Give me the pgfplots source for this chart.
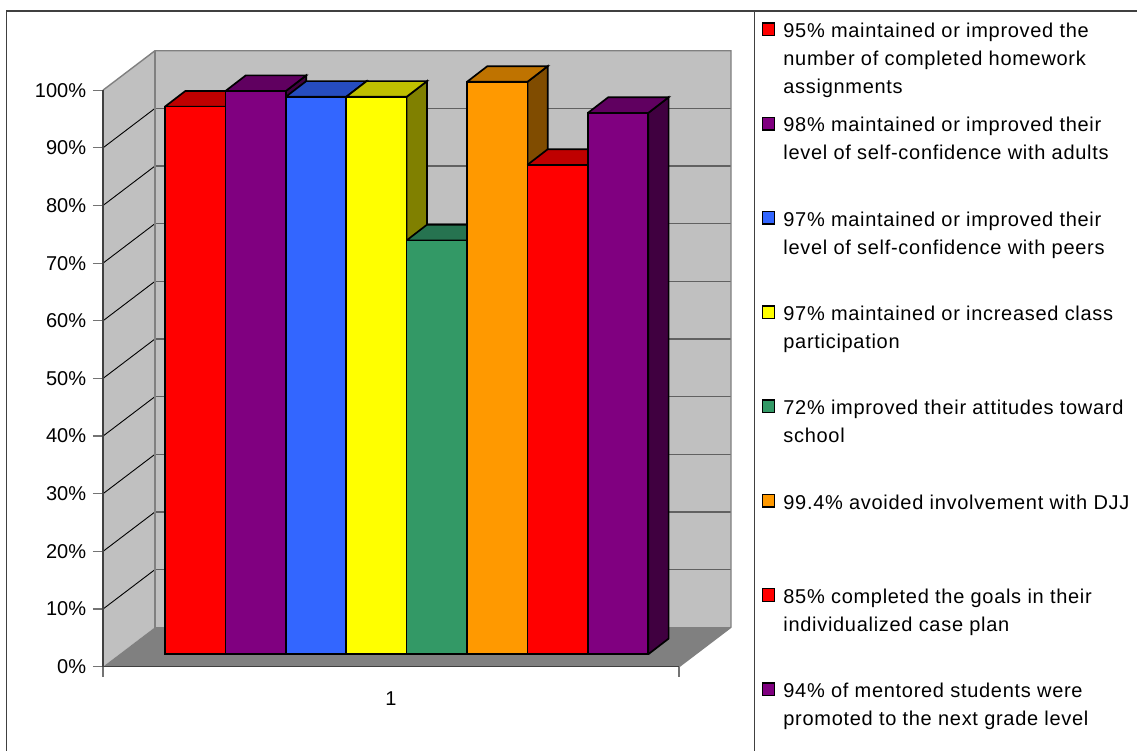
\documentclass[border=0pt]{standalone}
\usepackage{fontspec}
\setmainfont{Liberation Sans}
\newfontfamily\legfont[LetterSpace=3.5]{Liberation Sans}
\usepackage{pgfplots}
\pgfplotsset{compat=1.18}

% faces of the bars: front, top (75%), side (50%)
\definecolor{cRed}{HTML}{FF0000}\definecolor{cRedT}{HTML}{BF0000}\definecolor{cRedS}{HTML}{800000}
\definecolor{cPur}{HTML}{800080}\definecolor{cPurT}{HTML}{600060}\definecolor{cPurS}{HTML}{400040}
\definecolor{cBlu}{HTML}{3366FF}\definecolor{cBluT}{HTML}{264CBF}\definecolor{cBluS}{HTML}{1A3380}
\definecolor{cYel}{HTML}{FFFF00}\definecolor{cYelT}{HTML}{BFBF00}\definecolor{cYelS}{HTML}{808000}
\definecolor{cGrn}{HTML}{339966}\definecolor{cGrnT}{HTML}{267350}\definecolor{cGrnS}{HTML}{1A4D33}
\definecolor{cOra}{HTML}{FF9900}\definecolor{cOraT}{HTML}{BF7300}\definecolor{cOraS}{HTML}{804C00}
\definecolor{wall}{HTML}{C0C0C0}\definecolor{floorc}{HTML}{808080}
\definecolor{framec}{HTML}{404040}

\newcommand{\txt}{\fontsize{20}{28}\selectfont}
% each legend row is one fixed block, pitch 94.3
\newcommand{\legrow}[1]{\parbox[t][94.3pt][t]{350pt}{\legfont\strut #1}}

% x is in pixels from the front left corner, y in percent (5.765 px per percent)
\pgfplotsset{
  frontbar/.style={ybar, bar width=60.4pt, bar shift=0pt, yshift=12.4pt,
    draw=black, line width=1.7pt, fill=#1,
    legend image code/.code={\path[draw=black,line width=1.4pt,fill=#1] (0pt,-10.3pt) rectangle (12pt,2.3pt);}},
  face/.style={draw=black, line width=1.7pt, line join=miter, fill=#1, forget plot},
}

% #1 left edge, #2 value, #3 front #4 top #5 side
\newcommand{\threedbar}[5]{%
  \pgfmathsetmacro{\xa}{#1}\pgfmathsetmacro{\xb}{#1+60.4}%
  \pgfmathsetmacro{\xc}{#1+20.4}\pgfmathsetmacro{\xd}{#1+80.8}%
  \pgfmathsetmacro{\yb}{2.15}\pgfmathsetmacro{\ybb}{2.15+2.72}%
  \pgfmathsetmacro{\yt}{#2+2.15}\pgfmathsetmacro{\ytt}{#2+2.15+2.72}%
  \addplot[face=#5] coordinates {(\xb,\yb)(\xd,\ybb)(\xd,\ytt)(\xb,\yt)(\xb,\yb)};
  \addplot[face=#4] coordinates {(\xa,\yt)(\xb,\yt)(\xd,\ytt)(\xc,\ytt)(\xa,\yt)};
  \pgfmathsetmacro{\xm}{#1+30.2}%
  \addplot[frontbar=#3] coordinates {(\xm,#2)};
}
% a gridline across the side wall and the back wall
\newcommand{\wallgrid}[1]{%
  \pgfmathsetmacro{\ya}{#1+6.85}%
  \addplot[black, line width=0.9pt, forget plot] coordinates {(0,#1)(52,\ya)};
  \addplot[color=black!62, line width=1.4pt, forget plot] coordinates {(52,\ya)(628,\ya)};
}

\begin{document}
\txt
\begin{tikzpicture}[x=1pt,y=1pt]
\fill[white] (0,0) rectangle (1137,750);
\begin{pgfinterruptboundingbox}
\draw[framec, line width=1.5pt] (6.5,-5) -- (6.5,739.2) -- (1142,739.2);
\draw[framec, line width=1.2pt] (754.5,739.2) -- (754.5,-5);
\end{pgfinterruptboundingbox}
\begin{axis}[
  at={(103pt,83.3pt)}, anchor=south west,
  scale only axis, width=576pt, height=576.5pt,
  xmin=0, xmax=576, ymin=0, ymax=100,
  clip=false, axis on top,
  axis x line=bottom, axis y line=left,
  axis line style={-, color=framec, line width=1.2pt},
  tick align=outside, major tick length=10pt,
  tick style={color=black!55, line width=1.2pt},
  ytick={0,10,...,100},
  yticklabels={0\%,10\%,20\%,30\%,40\%,50\%,60\%,70\%,80\%,90\%,100\%},
  xtick={0,576}, xticklabels={,},
  extra x ticks={288}, extra x tick labels={1},
  extra x tick style={major tick length=0pt, tick label style={yshift=-18pt}},
  tick label style={font=\txt},
  legend style={at={(axis cs:659,112.52)}, anchor=north west, draw=none, fill=none,
    inner sep=0pt, outer sep=0pt, row sep=0pt, font=\txt,
    nodes={inner sep=0pt, text depth=},
    cells={anchor=base west},
    /tikz/every odd column/.append style={column sep=8pt}},
]
% walls and floor
\addplot[draw=none, fill=wall, forget plot] coordinates {(0,0)(52,6.85)(52,106.85)(0,100)(0,0)};
\addplot[draw=none, fill=wall, forget plot] coordinates {(52,6.85)(628,6.85)(628,106.85)(52,106.85)(52,6.85)};
\addplot[draw=none, fill=floorc, forget plot] coordinates {(0,0)(576,0)(628,6.85)(52,6.85)(0,0)};
\pgfplotsinvokeforeach{10,20,...,90}{\wallgrid{#1}}
\addplot[floorc, line width=1.4pt, forget plot] coordinates {(0,100)(52,106.85)(628,106.85)(628,6.85)(576,0)};
\addplot[floorc, line width=1.4pt, forget plot] coordinates {(52,106.85)(52,6.85)(628,6.85)};
% bars, back to front is left to right
\threedbar{62}{95}{cRed}{cRedT}{cRedS}
\addlegendentry{\legrow{95\% maintained or improved the\\number of completed homework\\assignments}}
\threedbar{122.4}{97.7}{cPur}{cPurT}{cPurS}
\addlegendentry{\legrow{98\% maintained or improved their\\level of self-confidence with adults}}
\threedbar{182.8}{96.7}{cBlu}{cBluT}{cBluS}
\addlegendentry{\legrow{97\% maintained or improved their\\level of self-confidence with peers}}
\threedbar{243.2}{96.7}{cYel}{cYelT}{cYelS}
\addlegendentry{\legrow{97\% maintained or increased class\\participation}}
\threedbar{303.6}{71.8}{cGrn}{cGrnT}{cGrnS}
\addlegendentry{\legrow{72\% improved their attitudes toward\\school}}
\threedbar{364}{99.3}{cOra}{cOraT}{cOraS}
\addlegendentry{\legrow{99.4\% avoided involvement with DJJ}}
\threedbar{424.4}{84.9}{cRed}{cRedT}{cRedS}
\addlegendentry{\legrow{85\% completed the goals in their\\individualized case plan}}
\threedbar{484.8}{93.9}{cPur}{cPurT}{cPurS}
\addlegendentry{\parbox[t]{350pt}{\legfont\strut 94\% of mentored students were\\promoted to the next grade level}}
\end{axis}
\end{tikzpicture}
\end{document}
